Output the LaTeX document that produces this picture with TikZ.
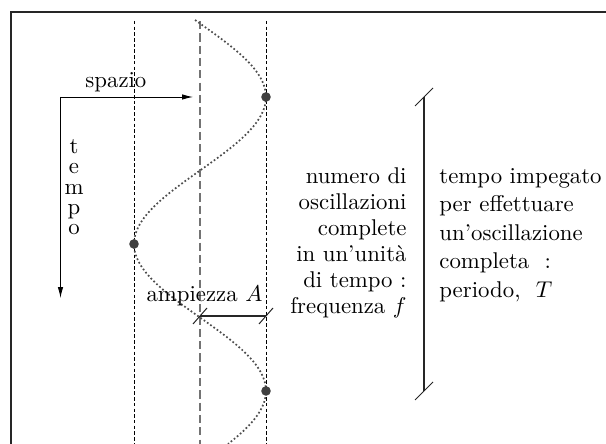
\documentclass[tikz,border=0pt]{standalone}
\usetikzlibrary{arrows.meta}
\begin{document}
\begin{tikzpicture}[x=0.4386pt,y=0.4386pt,
    guide/.style={dash pattern=on 1.5pt off 1pt, line width=0.4pt},
    midguide/.style={dash pattern=on 3.6pt off 1.8pt, line width=0.6pt, black!55},
    wave/.style={densely dotted, line width=0.75pt, black!70},
    blob/.style={fill=black!75},
    measure/.style={line width=0.45pt, black!85},
    axis/.style={-{Latex[length=4.8pt,width=2.4pt]}, line width=0.4pt}]
    \useasboundingbox (0,0) rectangle (606,444);
    \draw[line width=0.9pt, black!85, line join=miter] (11,0) -- (11,432) -- (606,432);
    % guide lines
    \draw[guide] (134,423) -- (134,0);
    \draw[guide] (266,423) -- (266,0);
    \draw[midguide] (200,423) -- (200,0);
    % the wave
    \draw[wave, domain=20:444, samples=120, smooth, variable=\t]
        plot ({200+66*cos(1.22449*(\t-97))}, {444-\t});
    \coordinate (P1) at (266,347);
    \coordinate (P2) at (134,200);
    \coordinate (P3) at (266,53);
    \foreach \p in {P1,P2,P3}
        \fill[blob] (\p) circle[radius=2.1pt];
    % axes
    \coordinate (O) at (60.5,347);
    \coordinate (S) at (193,347);
    \coordinate (Tm) at (60.5,146);
    \draw[axis] (O) -- (S);
    \draw[axis] (O) -- (Tm);
    \node[anchor=base west, inner sep=0] (spazio) at (85,356) {spazio};
    \node[anchor=north, inner sep=0, align=center, font=\fontsize{10}{8.9}\selectfont]
        (tempo) at (74,305) {t\\e\\m\\p\\o};
    % amplitude
    \coordinate (A1) at (200,128);
    \coordinate (A2) at (266,128);
    \draw[measure] (A1) -- (A2);
    \foreach \c in {A1,A2}
        \draw[measure] ([shift={(-7,-8)}]\c) -- ([shift={(7,8)}]\c);
    \node[anchor=base, inner sep=0] (ampiezza) at (204.5,142) {ampiezza $A$};
    % period
    \coordinate (T1) at (424,347);
    \coordinate (T2) at (424,53);
    \draw[measure] (T1) -- (T2);
    \foreach \c in {T1,T2}
        \draw[measure] ([shift={(-9,-9)}]\c) -- ([shift={(9,9)}]\c);
    \node[anchor=north east, inner sep=0, align=right, font=\fontsize{10}{11.4}\selectfont]
        (frequenza) at (407,277)
        {numero di\\oscillazioni\\complete\\in un'unità\\di tempo :\\frequenza $f$};
    \node[anchor=north west, inner sep=0, align=left, font=\fontsize{10}{12.5}\selectfont]
        (periodo) at (439,276)
        {tempo impegato\\per effettuare\\un'oscillazione\\completa \ :\\periodo, \ $T$};
\end{tikzpicture}
\end{document}
